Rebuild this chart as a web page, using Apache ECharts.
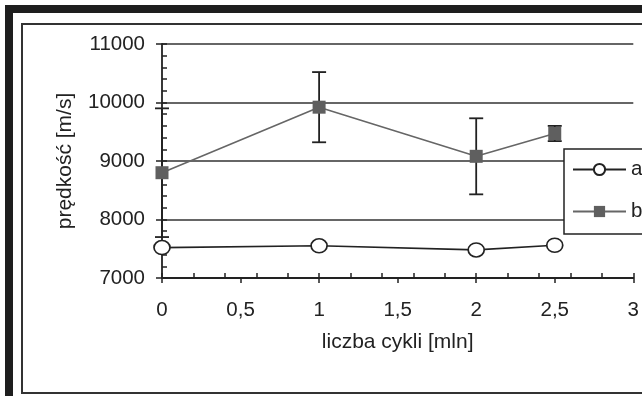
<!DOCTYPE html>
<html>
<head>
<meta charset="utf-8">
<script src="https://cdn.jsdelivr.net/npm/echarts@6/dist/echarts.min.js"></script>
<style>
html,body{margin:0;padding:0;background:#fff;}
#chart{width:642px;height:396px;}
</style>
</head>
<body>
<div id="chart"></div>
<script>
// Data
var cycles = [0, 1, 2, 2.5];            // liczba cykli [mln]
var seriesA = [7520, 7550, 7480, 7560]; // a
var seriesB = [8800, 9920, 9080, 9470]; // b
var errorB = [1100, 600, 650, 130];     // b: +/- error
var xTickLabels = ['0', '0,5', '1', '1,5', '2', '2,5', '3'];
var yTickLabels = ['7000', '8000', '9000', '10000', '11000'];

var FONT = '"Liberation Sans", Arial, sans-serif';
var chart = echarts.init(document.getElementById('chart'), null, {renderer: 'canvas'});

function pairs(xs, ys) { return xs.map(function (x, i) { return [x, ys[i]]; }); }
var errData = cycles.map(function (x, i) { return [x, seriesB[i] - errorB[i], seriesB[i] + errorB[i]]; });

var option = {
  animation: false,
  backgroundColor: '#fff',
  grid: {left: 162, right: 7, top: 44, bottom: 118, containLabel: false},
  graphic: [
    {type: 'rect', z: 100, silent: true, shape: {x: 9, y: 9, width: 700, height: 420},
     style: {fill: 'none', stroke: '#1e1e1e', lineWidth: 8}},
    {type: 'rect', z: 100, silent: true, shape: {x: 22, y: 24, width: 700, height: 369},
     style: {fill: 'none', stroke: '#333', lineWidth: 2}}
  ],
  xAxis: [
    {type: 'value', min: 0, max: 3, interval: 0.5,
     name: 'liczba cykli [mln]', nameLocation: 'middle', nameGap: 54,
     nameTextStyle: {fontFamily: FONT, fontSize: 21, color: '#222'},
     axisLine: {show: true, onZero: false, lineStyle: {color: '#222', width: 1.8}},
     axisTick: {show: true, inside: false, length: 5, lineStyle: {color: '#222', width: 1.5}},
     axisLabel: {fontFamily: FONT, fontSize: 20.5, color: '#222', margin: 22,
       formatter: function (v) { var i = Math.round(v / 0.5); return xTickLabels[i] || ''; }},
     splitLine: {show: false}},
    {type: 'value', min: 0, max: 3, interval: 0.2, position: 'bottom',
     axisLine: {show: false, onZero: false},
     axisTick: {show: true, inside: true, length: 5, lineStyle: {color: '#222', width: 1.5}},
     axisLabel: {show: false}, splitLine: {show: false}}
  ],
  yAxis: [
    {type: 'value', min: 7000, max: 11000, interval: 1000, position: 'left',
     name: 'prędkość [m/s]', nameLocation: 'middle', nameGap: 86,
     nameTextStyle: {fontFamily: FONT, fontSize: 21, color: '#222'},
     axisLine: {show: true, onZero: false, lineStyle: {color: '#222', width: 1.8}},
     axisTick: {show: true, inside: false, length: 6, lineStyle: {color: '#222', width: 1.5}},
     axisLabel: {fontFamily: FONT, fontSize: 20.5, color: '#222', margin: 17,
       formatter: function (v) { var i = Math.round((v - 7000) / 1000); return yTickLabels[i] || ''; }},
     splitLine: {show: true, lineStyle: {color: '#333', width: 1.5}}},
    {type: 'value', min: 7000, max: 11000, interval: 200, position: 'left', offset: 0,
     axisLine: {show: false, onZero: false},
     axisTick: {show: true, inside: true, length: 5, lineStyle: {color: '#222', width: 1.5}},
     axisLabel: {show: false}, splitLine: {show: false}}
  ],
  legend: {
    orient: 'vertical', left: 564, top: 149,
    itemWidth: 53, itemHeight: 14, itemGap: 21,
    padding: [10, 40, 12, 8],
    backgroundColor: '#fff', borderColor: '#222', borderWidth: 1.5,
    textStyle: {fontFamily: FONT, fontSize: 20.5, color: '#222', lineHeight: 21},
    data: ['a', 'b']
  },
  series: [
    {name: 'errB', type: 'custom', xAxisIndex: 0, yAxisIndex: 0, z: 1,
     data: errData,
     renderItem: function (params, api) {
       var x = api.value(0);
       var lo = api.coord([x, api.value(1)]);
       var hi = api.coord([x, api.value(2)]);
       var w = 7;
       var st = {stroke: '#222', lineWidth: 1.8};
       return {type: 'group', children: [
         {type: 'line', shape: {x1: lo[0], y1: lo[1], x2: hi[0], y2: hi[1]}, style: st},
         {type: 'line', shape: {x1: lo[0] - w, y1: lo[1], x2: lo[0] + w, y2: lo[1]}, style: st},
         {type: 'line', shape: {x1: hi[0] - w, y1: hi[1], x2: hi[0] + w, y2: hi[1]}, style: st}
       ]};
     }},
    {name: 'b', type: 'line', xAxisIndex: 0, yAxisIndex: 0, z: 3,
     data: pairs(cycles, seriesB),
     symbol: 'rect', symbolSize: 13,
     lineStyle: {color: '#666', width: 1.6},
     itemStyle: {color: '#5f5f5f', borderColor: '#5f5f5f', borderWidth: 0}},
    {name: 'a', type: 'line', xAxisIndex: 0, yAxisIndex: 0, z: 4,
     data: pairs(cycles, seriesA),
     symbol: 'circle', symbolSize: [16, 14],
     lineStyle: {color: '#222', width: 1.6},
     itemStyle: {color: '#fff', borderColor: '#222', borderWidth: 1.6}}
  ]
};
chart.setOption(option);
</script>
</body>
</html>
